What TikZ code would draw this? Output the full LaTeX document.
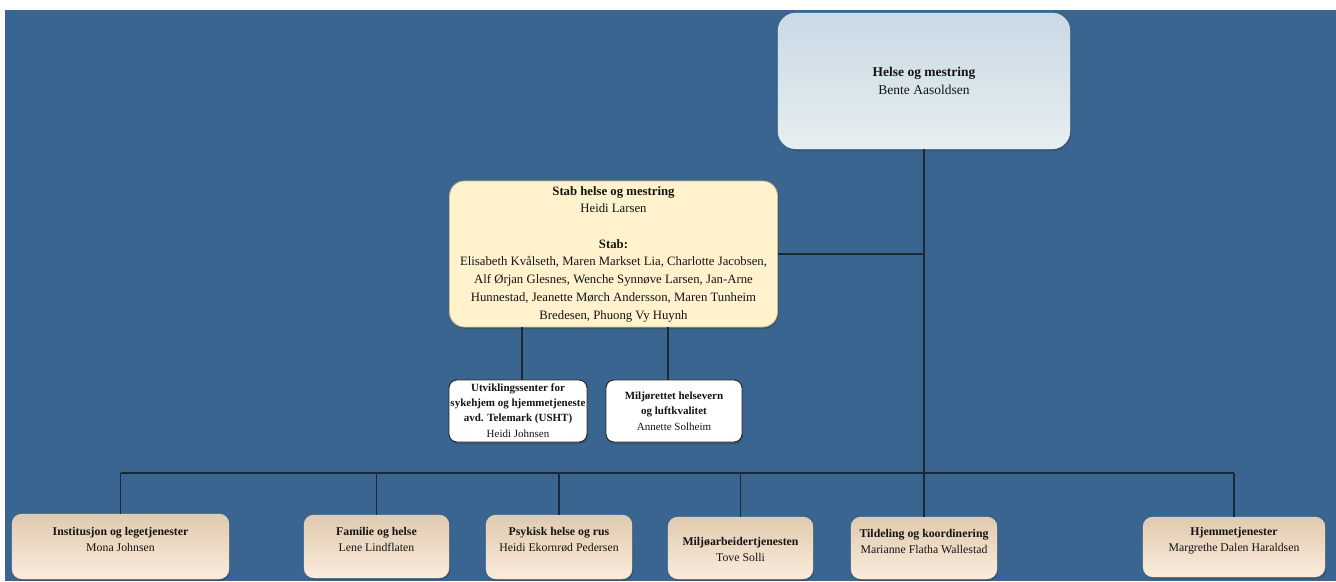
\documentclass[tikz,border=0pt]{standalone}
\usepackage{fontspec}
\setmainfont{Liberation Serif}
\usetikzlibrary{shadows}
\definecolor{bgblue}{HTML}{3A6590}
\definecolor{topA}{HTML}{CAD9E5}
\definecolor{topB}{HTML}{E6EFF0}
\definecolor{stabfill}{HTML}{FFF2CC}
\definecolor{stabline}{HTML}{D2BA80}
\definecolor{unitA}{HTML}{E1CAAE}
\definecolor{unitB}{HTML}{FAECDD}
\definecolor{unitline}{HTML}{EEDFCB}
\definecolor{linkcol}{HTML}{1B2836}
\definecolor{txt}{HTML}{141414}
\begin{document}
\begin{tikzpicture}[x=1pt,y=-1pt,
  every node/.style={inner sep=0pt, outer sep=0pt, text=txt},
  shad/.style={drop shadow={shadow xshift=1.2pt, shadow yshift=-2pt, opacity=0.35, fill=black!80}},
  topbox/.style={shad, rounded corners=18pt, top color=topA, bottom color=topB, draw=topB!80!topA, line width=0.4pt},
  stabbox/.style={shad, rounded corners=15pt, fill=stabfill, draw=stabline, line width=0.8pt},
  smallbox/.style={shad, rounded corners=8pt, fill=white, draw=black!85, line width=0.9pt},
  unitbox/.style={shad, rounded corners=10pt, top color=unitA, bottom color=unitB, draw=unitline, line width=0.4pt},
  toptext/.style={align=center, font=\fontsize{13.5}{18}\selectfont},
  stabtext/.style={align=center, font=\fontsize{12.75}{17.7}\selectfont},
  smalltext/.style={align=center, font=\fontsize{11}{15.3}\selectfont},
  unittext/.style={align=center, font=\fontsize{11.8}{16}\selectfont},
  link/.style={draw=linkcol, line width=1.3pt}
]
\useasboundingbox (0,0) rectangle (1336,581);
\fill[bgblue] (5,10) rectangle (1336,581);

% top
\node[topbox, minimum width=292pt, minimum height=136pt] (top) at (924,81) {};
\node[toptext] (toptx) at (924,80.5) {\textbf{Helse og mestring}\\Bente Aasoldsen};

% stab
\node[stabbox, minimum width=328pt, minimum height=146pt] (stab) at (613.5,254) {};
\node[stabtext] (stabtx) at (613.5,254) {\textbf{Stab helse og mestring}\\Heidi Larsen\\[17.7pt]\textbf{Stab:}\\Elisabeth Kvålseth, Maren Markset Lia, Charlotte Jacobsen,\\Alf Ørjan Glesnes, Wenche Synnøve Larsen, Jan-Arne\\Hunnestad, Jeanette Mørch Andersson, Maren Tunheim\\Bredesen, Phuong Vy Huynh};

% small boxes
\node[smallbox, minimum width=138pt, minimum height=62pt] (ush) at (518,411) {};
\node[smalltext] (ushtx) at (518,410.5) {\textbf{Utviklingssenter for}\\\textbf{sykehjem og hjemmetjeneste}\\\textbf{avd. Telemark (USHT)}\\Heidi Johnsen};
\node[smallbox, minimum width=136pt, minimum height=62pt] (mhv) at (674,411) {};
\node[smalltext] (mhvtx) at (674,411) {\textbf{Miljørettet helsevern}\\\textbf{og luftkvalitet}\\Annette Solheim};

% unit boxes
\node[unitbox, minimum width=217pt, minimum height=65pt] (b1) at (120.5,546.5) {};
\node[unitbox, minimum width=145pt, minimum height=63pt] (b2) at (376.5,546.5) {};
\node[unitbox, minimum width=146pt, minimum height=64pt] (b3) at (559,547) {};
\node[unitbox, minimum width=145pt, minimum height=62pt] (b4) at (740.5,548) {};
\node[unitbox, minimum width=146pt, minimum height=62pt] (b5) at (924,548) {};
\node[unitbox, minimum width=182pt, minimum height=60pt] (b6) at (1234,547) {};

\node[unittext] (b1tx) at (120.5,539) {\textbf{Institusjon og legetjenester}\\Mona Johnsen};
\node[unittext] (b2tx) at (376.5,539) {\textbf{Familie og helse}\\Lene Lindflaten};
\node[unittext] (b3tx) at (559,539.5) {\textbf{Psykisk helse og rus}\\Heidi Ekornrød Pedersen};
\node[unittext] (b4tx) at (740.5,549.5) {\textbf{Miljøarbeidertjenesten}\\Tove Solli};
\node[unittext] (b5tx) at (924,541) {\textbf{Tildeling og koordinering}\\Marianne Flatha Wallestad};
\node[unittext] (b6tx) at (1234,541) {\textbf{Hjemmetjenester}\\Margrethe Dalen Haraldsen};

% connectors
\coordinate (bus) at (0,473);
\coordinate (ux) at (522,0);
\coordinate (mx) at (668,0);
\begin{scope}[on background layer/.try]
\end{scope}
\path[link] (top.south) -- (b5.north);
\path[link] (stab.east) -- (stab.east -| top.south);
\path[link] (b1.north |- bus) -- (b6.north |- bus);
\foreach \b in {b1,b2,b3,b4,b6} {
  \path[link] (\b.north |- bus) -- (\b.north);
}
\path[link] (stab.south -| ux) -- (ush.north -| ux);
\path[link] (stab.south -| mx) -- (mhv.north -| mx);
\end{tikzpicture}
\end{document}
